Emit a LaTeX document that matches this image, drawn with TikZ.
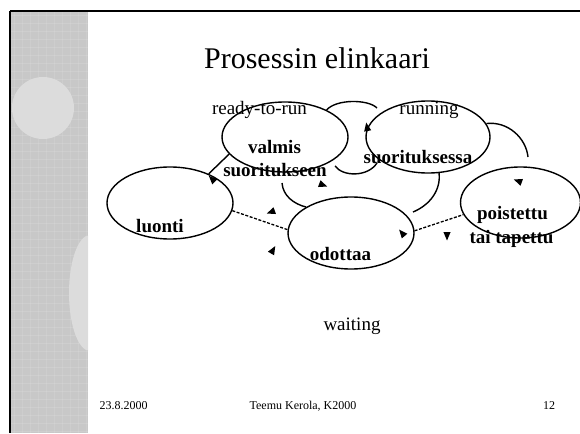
\documentclass[tikz,border=0pt]{standalone}
\usepackage{fontspec}
\setmainfont{Liberation Serif}
\usetikzlibrary{shapes.geometric}
\definecolor{stripgray}{RGB}{200,200,200}
\definecolor{blobgray}{RGB}{220,220,220}
% small free-standing arrowhead: x, y, direction
\newcommand\arrowtri[3]{\fill[shift={(#1,#2)},rotate=#3] (4.5,0) -- (-4,3.6) -- (-4,-3.6) -- cycle;}
\begin{document}
\begin{tikzpicture}[x=1pt,y=-1pt,
  state/.style={draw, line width=1.4pt, ellipse, inner sep=0pt},
  statelabel/.style={font=\fontsize{19}{20}\selectfont\bfseries, anchor=base, inner sep=0pt},
  phase/.style={font=\fontsize{19}{20}\selectfont, anchor=base, inner sep=0pt},
  foot/.style={font=\fontsize{12}{13}\selectfont, anchor=base, inner sep=0pt},
  conn/.style={line width=1.4pt},
  dashconn/.style={line width=1.3pt, dash pattern=on 3pt off 1.6pt}]
\useasboundingbox (0,0) rectangle (580,433);

% textured side strip
\fill[stripgray] (10,11) rectangle (88,433);
\begin{scope}
  \clip (10,11) rectangle (88,433);
  \foreach \yy in {15,23,...,433} \draw[white, opacity=.12, line width=.6pt] (10,\yy) -- (88,\yy);
  \foreach \xx in {14,22,...,88} \draw[white, opacity=.1, line width=.6pt] (\xx,11) -- (\xx,433);
  \fill[blobgray] (43,108) circle[radius=31];
  \fill[blobgray] (90,293) ellipse[x radius=21, y radius=58];
\end{scope}

% frame lines
\draw[line width=1.6pt] (10,11) -- (580,11);
\draw[line width=2pt] (10,11) -- (10,433);

% title
\node[font=\fontsize{30}{34}\selectfont, anchor=base, inner sep=0pt] (title) at (317,69) {Prosessin elinkaari};

% states
\node[state, minimum width=126, minimum height=70] (valmis) at (285,137) {};
\node[state, minimum width=124, minimum height=72] (suor)   at (428,137) {};
\node[state, minimum width=126, minimum height=72] (luonti) at (170,203) {};
\node[state, minimum width=126, minimum height=72] (odottaa) at (351,233) {};
\node[state, minimum width=120, minimum height=71] (poist)  at (520.5,202.5) {};

% state names
\node[statelabel] (lvalmis)  at (274.5,153) {valmis};
\node[statelabel] (lvalmis2) at (275,176) {suoritukseen};
\node[statelabel] (lsuor)    at (418,163) {suorituksessa};
\node[statelabel] (lluonti)  at (160,232) {luonti};
\node[statelabel] (lodottaa) at (340.5,260) {odottaa};
\node[statelabel] (lpoist)   at (512.5,219) {poistettu};
\node[statelabel] (lpoist2)  at (511.5,243) {tai tapettu};

% phase names
\node[phase] (pready)   at (259.5,114) {ready-to-run};
\node[phase] (prunning) at (429,114) {running};
\node[phase] (pwaiting) at (352,330) {waiting};

% free ends of the transitions
\coordinate (aEnd) at (377,108);
\coordinate (bStart) at (335,166);
\coordinate (bEnd) at (377,163);
\coordinate (cEnd) at (528,157);
\coordinate (dEnd) at (413,212);
\coordinate (eStart) at (282,183);

% transitions
\draw[conn] (valmis.33) .. controls (336,99) and (368,99) .. (aEnd);
\draw[conn] (bStart) .. controls (343,177) and (368,177) .. (bEnd);
\draw[conn] (suor.13) .. controls (508,121) and (526,138) .. (cEnd);
\draw[conn] (suor.-73) .. controls (441,190) and (430,205) .. (dEnd);
\draw[conn] (eStart) .. controls (283,196) and (294,204) .. (odottaa.150);
\draw[conn] (valmis.197) -- (luonti.37);
\draw[dashconn] (luonti.-7) -- (odottaa.177);
\draw[dashconn] (odottaa.2) -- (poist.192);

% arrowheads
\arrowtri{367}{127}{100}
\arrowtri{323}{185}{-20}
\arrowtri{518}{181}{160}
\arrowtri{212}{179}{135}
\arrowtri{271}{212}{200}
\arrowtri{273}{250}{60}
\arrowtri{402}{233}{130}
\arrowtri{447}{236}{-90}

% footer
\node[foot] (fdate) at (123.5,409) {23.8.2000};
\node[foot] (fauthor) at (303,409) {Teemu Kerola, K2000};
\node[foot] (fpage) at (549,409) {12};
\end{tikzpicture}
\end{document}
